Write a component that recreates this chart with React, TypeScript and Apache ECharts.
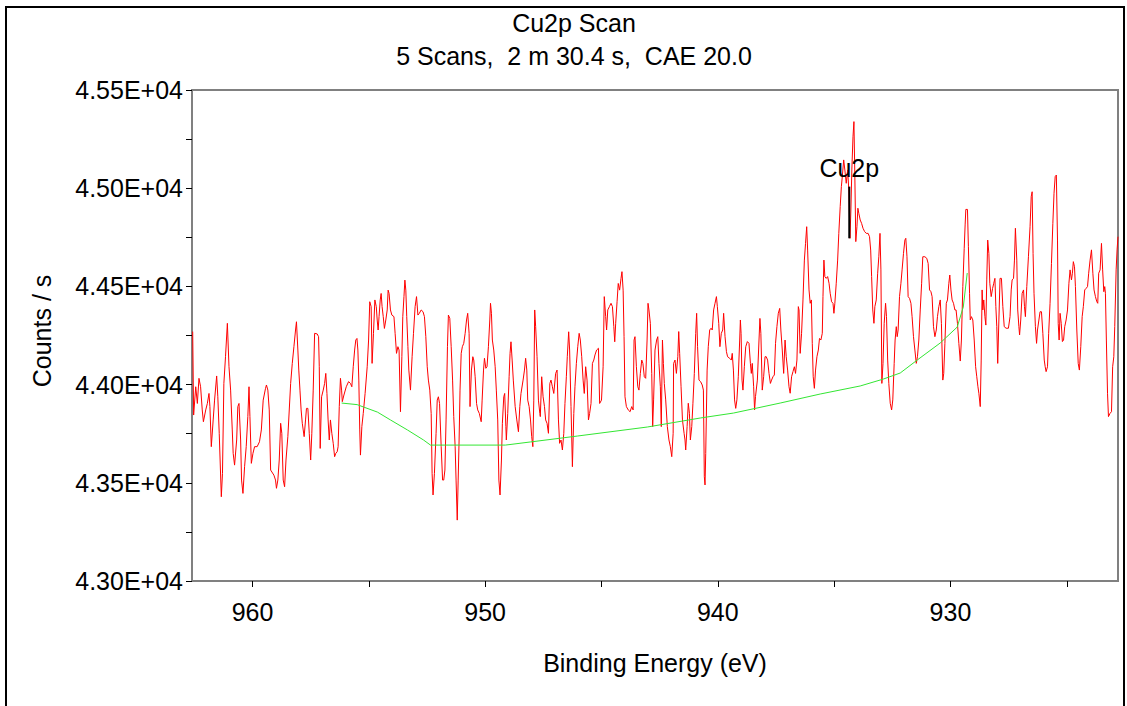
import React, { useEffect, useRef } from "react";
import * as echarts from "echarts";

// Binding energy (eV) of the Cu2p scan points
const energy: number[] = [
  962.57, 962.53, 962.44, 962.37, 962.30, 962.23, 962.16, 962.11, 962.01, 961.94, 961.87, 961.83, 961.77, 961.69, 961.63, 961.54, 961.49, 961.43, 961.34, 961.29,
  961.23, 961.16, 961.08, 961.01, 960.94, 960.87, 960.83, 960.77, 960.68, 960.63, 960.58, 960.51, 960.47, 960.41, 960.34, 960.27, 960.20, 960.15, 960.11, 960.05,
  959.98, 959.91, 959.80, 959.70, 959.62, 959.54, 959.44, 959.40, 959.34, 959.28, 959.22, 959.08, 959.01, 958.97, 958.91, 958.85, 958.79, 958.74, 958.68, 958.62,
  958.56, 958.48, 958.36, 958.29, 958.22, 958.15, 958.11, 958.05, 958.01, 957.96, 957.91, 957.86, 957.82, 957.78, 957.72, 957.68, 957.62, 957.56, 957.50, 957.45,
  957.39, 957.33, 957.22, 957.16, 957.13, 957.09, 957.03, 956.96, 956.90, 956.85, 956.80, 956.75, 956.70, 956.65, 956.59, 956.53, 956.47, 956.42, 956.36, 956.32,
  956.27, 956.22, 956.17, 956.14, 956.07, 955.97, 955.87, 955.79, 955.73, 955.67, 955.61, 955.56, 955.51, 955.47, 955.43, 955.39, 955.36, 955.30, 955.24, 955.16,
  955.07, 955.01, 954.96, 954.90, 954.86, 954.80, 954.74, 954.68, 954.64, 954.60, 954.56, 954.51, 954.47, 954.43, 954.38, 954.33, 954.27, 954.21, 954.17, 954.13,
  954.07, 954.01, 953.92, 953.87, 953.81, 953.75, 953.70, 953.64, 953.58, 953.54, 953.49, 953.45, 953.41, 953.37, 953.32, 953.28, 953.21, 953.14, 953.08, 953.01,
  952.95, 952.89, 952.83, 952.75, 952.67, 952.61, 952.55, 952.49, 952.44, 952.38, 952.32, 952.28, 952.24, 952.18, 952.11, 952.06, 952.01, 951.96, 951.89, 951.83,
  951.78, 951.73, 951.68, 951.62, 951.58, 951.52, 951.46, 951.40, 951.35, 951.29, 951.25, 951.20, 951.16, 951.12, 951.08, 951.03, 950.98, 950.92, 950.86, 950.80,
  950.75, 950.69, 950.65, 950.59, 950.53, 950.49, 950.43, 950.37, 950.32, 950.25, 950.17, 950.13, 950.07, 950.03, 949.97, 949.92, 949.86, 949.80, 949.77, 949.73,
  949.69, 949.63, 949.57, 949.52, 949.46, 949.41, 949.36, 949.30, 949.26, 949.20, 949.16, 949.11, 949.09, 949.03, 948.97, 948.93, 948.89, 948.84, 948.79, 948.71,
  948.64, 948.57, 948.51, 948.46, 948.37, 948.31, 948.26, 948.21, 948.17, 948.11, 948.05, 948.00, 947.95, 947.91, 947.87, 947.83, 947.77, 947.71, 947.65, 947.63,
  947.57, 947.51, 947.45, 947.40, 947.34, 947.28, 947.22, 947.17, 947.11, 947.05, 946.97, 946.91, 946.85, 946.80, 946.74, 946.68, 946.62, 946.57, 946.51, 946.47,
  946.41, 946.37, 946.31, 946.25, 946.19, 946.14, 946.08, 946.02, 945.96, 945.91, 945.85, 945.79, 945.74, 945.68, 945.62, 945.56, 945.51, 945.45, 945.39, 945.33,
  945.28, 945.21, 945.13, 945.08, 945.00, 944.93, 944.88, 944.82, 944.78, 944.73, 944.66, 944.59, 944.53, 944.47, 944.43, 944.39, 944.33, 944.28, 944.22, 944.16,
  944.12, 944.07, 944.03, 943.99, 943.93, 943.85, 943.77, 943.70, 943.64, 943.60, 943.56, 943.50, 943.44, 943.39, 943.33, 943.27, 943.22, 943.16, 943.10, 943.04,
  943.00, 942.96, 942.90, 942.84, 942.80, 942.76, 942.70, 942.63, 942.58, 942.53, 942.47, 942.43, 942.38, 942.34, 942.30, 942.24, 942.17, 942.10, 942.04, 941.98,
  941.92, 941.90, 941.84, 941.78, 941.72, 941.68, 941.64, 941.58, 941.52, 941.45, 941.41, 941.38, 941.32, 941.27, 941.22, 941.18, 941.12, 941.07, 941.01, 940.95,
  940.91, 940.87, 940.81, 940.74, 940.67, 940.62, 940.58, 940.55, 940.52, 940.46, 940.41, 940.35, 940.29, 940.24, 940.18, 940.12, 940.06, 940.02, 939.96, 939.91,
  939.85, 939.79, 939.75, 939.69, 939.63, 939.58, 939.49, 939.42, 939.38, 939.33, 939.28, 939.23, 939.18, 939.12, 939.06, 939.03, 939.00, 938.96, 938.92, 938.86,
  938.80, 938.73, 938.66, 938.60, 938.56, 938.52, 938.46, 938.42, 938.38, 938.30, 938.23, 938.19, 938.15, 938.09, 938.03, 937.97, 937.92, 937.86, 937.80, 937.74,
  937.69, 937.63, 937.57, 937.52, 937.46, 937.40, 937.34, 937.29, 937.23, 937.17, 937.11, 937.06, 937.00, 936.94, 936.89, 936.83, 936.77, 936.71, 936.66, 936.60,
  936.54, 936.51, 936.46, 936.40, 936.34, 936.28, 936.23, 936.18, 936.14, 936.08, 936.03, 935.98, 935.94, 935.90, 935.85, 935.80, 935.74, 935.68, 935.63, 935.57,
  935.51, 935.48, 935.44, 935.40, 935.34, 935.28, 935.22, 935.17, 935.11, 935.05, 935.01, 934.97, 934.91, 934.85, 934.80, 934.74, 934.69, 934.65, 934.59, 934.54,
  934.48, 934.42, 934.37, 934.32, 934.28, 934.24, 934.19, 934.15, 934.11, 934.07, 934.02, 933.98, 933.94, 933.88, 933.82, 933.76, 933.69, 933.62, 933.54, 933.48,
  933.43, 933.39, 933.34, 933.29, 933.25, 933.19, 933.13, 933.08, 933.03, 932.99, 932.95, 932.90, 932.85, 932.79, 932.75, 932.70, 932.65, 932.59, 932.53, 932.48,
  932.42, 932.38, 932.33, 932.29, 932.25, 932.19, 932.13, 932.08, 932.02, 931.96, 931.92, 931.87, 931.82, 931.76, 931.70, 931.65, 931.59, 931.53, 931.47, 931.42,
  931.36, 931.30, 931.24, 931.19, 931.10, 931.02, 930.96, 930.90, 930.84, 930.79, 930.73, 930.67, 930.61, 930.56, 930.50, 930.44, 930.39, 930.33, 930.29, 930.24,
  930.18, 930.13, 930.07, 930.03, 929.98, 929.93, 929.87, 929.81, 929.76, 929.70, 929.64, 929.58, 929.53, 929.47, 929.41, 929.37, 929.34, 929.27, 929.23, 929.18,
  929.15, 929.10, 929.04, 928.98, 928.92, 928.87, 928.82, 928.78, 928.72, 928.68, 928.64, 928.61, 928.57, 928.52, 928.48, 928.44, 928.40, 928.35, 928.31, 928.25,
  928.19, 928.14, 928.09, 928.05, 928.01, 927.97, 927.92, 927.87, 927.81, 927.75, 927.69, 927.61, 927.51, 927.44, 927.39, 927.35, 927.29, 927.25, 927.21, 927.15,
  927.11, 927.06, 927.03, 926.98, 926.92, 926.86, 926.82, 926.78, 926.72, 926.65, 926.58, 926.53, 926.49, 926.45, 926.41, 926.35, 926.30, 926.26, 926.20, 926.15,
  926.09, 926.03, 925.97, 925.93, 925.89, 925.83, 925.78, 925.72, 925.66, 925.60, 925.55, 925.50, 925.45, 925.40, 925.37, 925.33, 925.29, 925.24, 925.19, 925.14,
  925.09, 925.03, 924.97, 924.91, 924.86, 924.80, 924.76, 924.72, 924.67, 924.63, 924.57, 924.51, 924.46, 924.40, 924.34, 924.29, 924.23, 924.17, 924.11, 924.06,
  924.00, 923.94, 923.88, 923.83, 923.77, 923.71, 923.67, 923.63, 923.57, 923.51, 923.46, 923.41, 923.37, 923.34, 923.30, 923.25, 923.21, 923.14, 923.08, 923.03,
  922.98, 922.94, 922.88, 922.84, 922.80,
];

// Counts / s at each energy above
const counts: number[] = [
  44270, 43845, 43989, 43904, 44032, 43989, 43871, 43811, 43871, 43904, 43955, 43888, 43684, 43820, 43921, 44044, 43938, 43752, 43429, 43548,
  44006, 44142, 44312, 44091, 43972, 43769, 43650, 43590, 43718, 43888, 43904, 43718, 43514, 43446, 43582, 43684, 43837, 43989, 43837, 43599,
  43650, 43684, 43684, 43709, 43769, 43921, 43981, 43998, 43972, 43871, 43565, 43539, 43514, 43472, 43514, 43616, 43803, 43752, 43514, 43480,
  43616, 43735, 44006, 44108, 44193, 44278, 44320, 44176, 44074, 43972, 43871, 43803, 43769, 43735, 43820, 43879, 43879, 43752, 43616, 43752,
  43972, 44261, 44258, 44244, 44091, 43675, 43938, 43972, 44006, 44057, 43955, 43820, 43718, 43820, 43752, 43701, 43633, 43650, 43658, 43684,
  43888, 44032, 43972, 43913, 43947, 43989, 44015, 44006, 43989, 44091, 44176, 44227, 44235, 44176, 44023, 43769, 43641, 43786, 43853, 43955,
  44091, 44227, 44422, 44397, 44108, 44261, 44431, 44397, 44329, 44278, 44346, 44431, 44464, 44397, 44346, 44286, 44329, 44380, 44481, 44464,
  44380, 44354, 44346, 44261, 44159, 44193, 44176, 43862, 44142, 44346, 44448, 44532, 44481, 44346, 44193, 44074, 43972, 44142, 44261, 44397,
  44448, 44354, 44363, 44380, 44371, 44346, 44244, 44091, 44023, 43972, 43853, 43548, 43438, 43548, 43752, 43921, 43938, 43904, 43684, 43514,
  43514, 43565, 43820, 44193, 44354, 44337, 44193, 44023, 43837, 43684, 43514, 43310, 43514, 43718, 43972, 44159, 44193, 44210, 44261, 44329,
  44363, 44261, 43888, 44074, 44142, 44125, 44040, 43904, 43871, 43853, 43811, 43921, 44074, 44134, 44083, 44091, 44193, 44329, 44414, 44363,
  44227, 44176, 44091, 43972, 43820, 43514, 43438, 43616, 43803, 43938, 43955, 43786, 43718, 43853, 44040, 44159, 44218, 44125, 44023, 43888,
  43820, 43760, 43888, 43955, 44023, 44074, 44134, 44074, 43921, 43888, 43820, 43735, 43684, 43921, 44380, 44295, 44142, 43921, 43853, 43837,
  44040, 43938, 43888, 43820, 43803, 43752, 44006, 44023, 43989, 43955, 44057, 44074, 43820, 43701, 43718, 43667, 43752, 43904, 44040, 44142,
  44269, 44176, 43888, 43582, 43853, 43989, 44108, 44193, 44261, 44227, 44142, 44023, 43955, 44091, 44023, 43820, 43853, 43904, 44108, 44125,
  44151, 44176, 44185, 43904, 43921, 44091, 44448, 44346, 44278, 44380, 44397, 44414, 44397, 44295, 44218, 44312, 44422, 44515, 44481, 44541,
  44575, 44481, 44244, 43938, 43888, 43871, 43862, 43888, 43871, 44227, 44244, 44091, 43989, 43972, 44057, 44125, 44108, 44040, 44032, 44227,
  44414, 44380, 44312, 44057, 43786, 43922, 44176, 44227, 44244, 44108, 43989, 43786, 44227, 44108, 44006, 43922, 43786, 43718, 43684, 43633,
  43752, 44108, 44125, 44057, 44142, 44270, 44159, 43989, 43820, 43752, 43718, 43667, 43786, 43905, 43854, 43718, 43786, 43905, 44057, 44261,
  44363, 44193, 44023, 44015, 43998, 43972, 43531, 43489, 43650, 44074, 44193, 44278, 44287, 44278, 44380, 44414, 44448, 44397, 44312, 44193,
  44261, 44278, 44363, 44244, 44168, 44142, 44134, 44125, 44159, 44074, 43922, 43879, 43922, 44040, 44227, 44329, 44261, 44023, 43972, 44091,
  44193, 44219, 44210, 44108, 44057, 44108, 43989, 43871, 43939, 44023, 44227, 44337, 44261, 43972, 44040, 44142, 44142, 44125, 44057, 44006,
  44023, 44040, 44049, 44210, 44295, 44363, 44388, 44278, 44176, 44057, 44227, 44142, 44074, 43989, 43956, 44040, 44066, 44091, 44057, 44125,
  44397, 44380, 44159, 44261, 44431, 44634, 44719, 44804, 44685, 44482, 44414, 44431, 44210, 44040, 43981, 44074, 44142, 44176, 44235, 44227,
  44261, 44448, 44634, 44550, 44541, 44550, 44516, 44465, 44422, 44414, 44363, 44414, 44516, 44634, 44770, 44906, 45008, 45059, 45144, 45093,
  45025, 45093, 44991, 44745, 44889, 45093, 45262, 45339, 45059, 44728, 44804, 44898, 44872, 44838, 44821, 44796, 44779, 44770, 44770, 44753,
  44685, 44550, 44380, 44312, 44397, 44431, 44567, 44651, 44770, 44584, 44006, 44108, 44312, 44414, 44346, 44125, 44006, 43905, 43871, 43922,
  44108, 44227, 44295, 44244, 44278, 44448, 44516, 44584, 44668, 44736, 44745, 44651, 44448, 44439, 44414, 44346, 44244, 44176, 44108, 44142,
  44227, 44380, 44516, 44651, 44651, 44643, 44617, 44482, 44473, 44448, 44295, 44244, 44278, 44346, 44397, 44431, 44312, 44023, 44057, 44210,
  44414, 44431, 44516, 44558, 44482, 44431, 44414, 44380, 44380, 44312, 44210, 44120, 44227, 44499, 44694, 44813, 44892, 44892, 44702, 44465,
  44329, 44346, 44329, 44227, 44091, 44040, 43989, 43956, 43888, 44125, 44482, 44380, 44431, 44346, 44303, 44533, 44736, 44668, 44516, 44448,
  44490, 44516, 44541, 44397, 44295, 44108, 44329, 44541, 44541, 44397, 44295, 44287, 44287, 44346, 44482, 44533, 44541, 44634, 44796, 44634,
  44380, 44295, 44253, 44329, 44465, 44482, 44397, 44346, 44499, 44651, 44804, 44957, 44982, 44668, 44465, 44295, 44210, 44278, 44329, 44371,
  44371, 44261, 44125, 44091, 44066, 44091, 44261, 44414, 44617, 44821, 44974, 45059, 45067, 44736, 44312, 44227, 44363, 44312, 44219, 44227,
  44295, 44329, 44380, 44516, 44584, 44533, 44567, 44626, 44600, 44499, 44278, 44108, 44074, 44193, 44346, 44397, 44482, 44490, 44499, 44567,
  44634, 44686, 44567, 44482, 44448, 44422, 44414, 44567, 44584, 44719, 44584, 44473, 44499, 44465, 44227, 43956, 43837, 43854, 43862, 44091,
  44142, 44295, 44584, 44686, 44753,
];

// Shirley-type background under the Cu2p region
const bgEnergy: number[] = [
  956.17, 955.5, 955.23, 954.63, 954.07, 953.34, 952.65, 952.35, 949.13, 948.05, 946.04, 943.03,
  940.75, 939.33, 937.32, 935.6, 933.88, 932.89, 932.16, 931.43, 930.44, 929.71, 929.45, 929.28,
];
const bgCounts: number[] = [
  43906, 43898, 43886, 43860, 43820, 43769, 43718, 43692, 43692, 43708, 43738, 43784,
  43830, 43855, 43906, 43952, 43993, 44028, 44059, 44125, 44212, 44293, 44395, 44568,
];

// Peak marker
const peakName = "Cu2p";
const peakEnergy = 934.35;
const peakMarkLow = 44745;
const peakMarkHigh = 45008;

// Axis ticks
const xTickValues = [925, 930, 935, 940, 945, 950, 955, 960];
const xLabelValues = [930, 940, 950, 960];
const xMin = 922.8;
const xMax = 962.6;
const yMin = 43000;
const yMax = 45500;
const yStep = 250;

const titleLine1 = "Cu2p Scan";
const titleLine2 = "5 Scans,  2 m 30.4 s,  CAE 20.0";
const xTitle = "Binding Energy (eV)";
const yTitle = "Counts / s";

const FONT = "'Liberation Sans', Arial, sans-serif";

export default function App() {
  const ref = useRef<HTMLDivElement>(null);
  useEffect(() => {
    if (!ref.current) return;
    const chart = echarts.init(ref.current, undefined, { renderer: "svg" });
    const spectrum = energy.map((e, i) => [e, counts[i]]);
    const background = bgEnergy.map((e, i) => [e, bgCounts[i]]);
    chart.setOption({
      animation: false,
      backgroundColor: "#ffffff",
      grid: {
        left: 192,
        right: 9,
        top: 90,
        bottom: 125,
        show: true,
        borderColor: "#808080",
        borderWidth: 2,
        backgroundColor: "transparent",
      },
      graphic: [
        {
          type: "rect",
          shape: { x: 6, y: 7, width: 1118, height: 710 },
          style: { fill: "none", stroke: "#000", lineWidth: 2 },
          silent: true,
        },
        {
          type: "text",
          x: 574,
          y: 23,
          style: { text: titleLine1, fill: "#000", font: `25px ${FONT}`, textAlign: "center", textVerticalAlign: "middle" },
        },
        {
          type: "text",
          x: 574,
          y: 56,
          style: { text: titleLine2, fill: "#000", font: `25px ${FONT}`, textAlign: "center", textVerticalAlign: "middle" },
        },
        {
          type: "text",
          x: 655,
          y: 663,
          style: { text: xTitle, fill: "#000", font: `25px ${FONT}`, textAlign: "center", textVerticalAlign: "middle" },
        },
        {
          type: "text",
          x: 42,
          y: 331,
          rotation: Math.PI / 2,
          style: { text: yTitle, fill: "#000", font: `25px ${FONT}`, textAlign: "center", textVerticalAlign: "middle" },
        },
      ],
      xAxis: {
        type: "value",
        min: xMin,
        max: xMax,
        inverse: true,
        axisLine: { show: true, lineStyle: { color: "#808080", width: 2 } },
        axisTick: { show: true, length: 6, customValues: xTickValues, lineStyle: { color: "#000", width: 1 } },
        axisLabel: { customValues: xLabelValues, fontSize: 25, color: "#000", fontFamily: FONT, margin: 18 },
        splitLine: { show: false },
      },
      yAxis: {
        type: "value",
        min: yMin,
        max: yMax,
        interval: yStep,
        axisLine: { show: true, lineStyle: { color: "#808080", width: 2 } },
        axisTick: { show: true, length: 6, lineStyle: { color: "#000", width: 1 } },
        axisLabel: {
          fontSize: 25,
          color: "#000",
          fontFamily: FONT,
          margin: 9,
          formatter: (v: number) => (Math.round(v) % 500 === 0 ? (v / 10000).toFixed(2) + "E+04" : ""),
        },
        splitLine: { show: false },
      },
      series: [
        {
          type: "line",
          data: spectrum,
          showSymbol: false,
          symbol: "none",
          lineStyle: { color: "#ff0000", width: 1 },
          z: 3,
        },
        {
          type: "line",
          data: background,
          showSymbol: false,
          symbol: "none",
          lineStyle: { color: "#33e633", width: 1 },
          z: 4,
        },
        {
          type: "line",
          data: [
            [peakEnergy, peakMarkLow],
            [peakEnergy, peakMarkHigh],
          ],
          showSymbol: false,
          symbol: "none",
          lineStyle: { color: "#000", width: 2 },
          z: 5,
        },
        {
          type: "scatter",
          data: [[peakEnergy, peakMarkHigh]],
          symbolSize: 0,
          itemStyle: { color: "#000", opacity: 1 },
          label: {
            show: true,
            position: "top",
            distance: 6,
            formatter: peakName,
            fontSize: 25,
            color: "#000",
            opacity: 1,
            textBorderWidth: 0,
            fontFamily: FONT,
          },
          z: 6,
        },
      ],
    });
    return () => chart.dispose();
  }, []);
  return (
    <div
      ref={ref}
      style={{ position: "fixed", left: 0, top: 0, width: 1127, height: 706, background: "#fff" }}
    />
  );
}
